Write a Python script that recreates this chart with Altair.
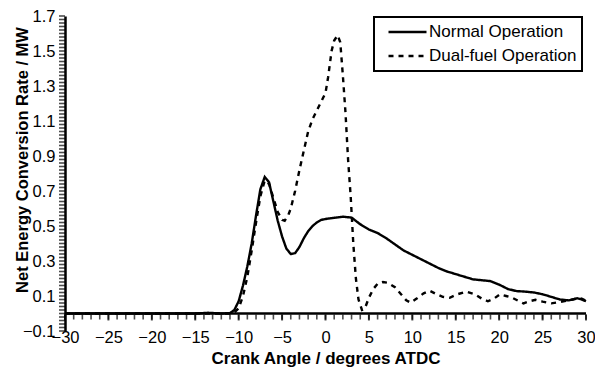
import altair as alt
import pandas as pd
import numpy as np

# Normal operation (solid)
normal_angle = [-30, -20, -15, -13.5, -12, -11, -10.5, -10, -9.5, -9, -8.5, -8, -7.5, -7, -6.5, -6,
                -5.5, -5, -4.5, -4, -3.5, -3, -2.5, -2, -1.5, -1, -0.5, 0, 1, 2, 3, 4, 5, 6, 7, 8,
                9, 10, 11, 12, 13, 14, 15, 16, 17, 18, 19, 20, 21, 22, 23, 24, 25, 26, 27, 28,
                28.5, 29, 29.5, 30]
normal_rate = [0, 0, 0, 0.004, 0, 0.002, 0.02, 0.07, 0.16, 0.27, 0.40, 0.56, 0.71, 0.78, 0.75, 0.64,
               0.53, 0.44, 0.37, 0.34, 0.345, 0.38, 0.43, 0.47, 0.50, 0.52, 0.535, 0.54, 0.547, 0.553,
               0.548, 0.51, 0.48, 0.46, 0.43, 0.395, 0.36, 0.335, 0.31, 0.285, 0.26, 0.24, 0.225,
               0.21, 0.195, 0.19, 0.185, 0.165, 0.14, 0.128, 0.125, 0.12, 0.11, 0.095, 0.08, 0.075,
               0.08, 0.087, 0.08, 0.07]

# Dual-fuel operation (dashed)
dual_angle = [-30, -20, -11, -10.5, -10, -9.5, -9, -8.5, -8, -7.5, -7, -6.5, -6, -5.5, -5, -4.7,
              -4.3, -4, -3.5, -3, -2.5, -2, -1.5, -1, -0.5, 0, 0.3, 0.7, 1.0, 1.4, 1.7, 2.0, 2.3,
              2.6, 2.9, 3.2, 3.5, 3.8, 4.2, 4.5, 5.0, 5.5, 6.0, 6.6, 7.2, 8.0, 8.7, 9.3, 9.8, 10.5,
              11.3, 12.0, 12.8, 13.5, 14.3, 15.2, 16.2, 17.2, 18.0, 18.7, 19.4, 20.1, 20.8, 21.5,
              22.3, 22.8, 23.5, 24.2, 25.0, 26.0, 27.0, 28.0, 29.0, 29.5, 30.0]
dual_rate = [0, 0, 0, 0.005, 0.03, 0.10, 0.21, 0.36, 0.52, 0.67, 0.76, 0.74, 0.66, 0.58, 0.535, 0.53,
             0.56, 0.60, 0.70, 0.82, 0.93, 1.04, 1.11, 1.16, 1.21, 1.26, 1.35, 1.50, 1.56, 1.59, 1.55,
             1.36, 1.15, 0.88, 0.67, 0.40, 0.20, 0.08, 0.02, 0.025, 0.09, 0.14, 0.17, 0.18, 0.175,
             0.15, 0.11, 0.075, 0.062, 0.085, 0.115, 0.13, 0.11, 0.095, 0.09, 0.11, 0.125, 0.11,
             0.085, 0.07, 0.085, 0.11, 0.10, 0.09, 0.07, 0.058, 0.07, 0.078, 0.068, 0.058, 0.065,
             0.075, 0.088, 0.085, 0.072]

series_names = ["Normal Operation", "Dual-fuel Operation"]

x_major = [-30, -25, -20, -15, -10, -5, 0, 5, 10, 15, 20, 25, 30]
x_minor = list(range(-30, 31))
y_major = [-0.1, 0.1, 0.3, 0.5, 0.7, 0.9, 1.1, 1.3, 1.5, 1.7]
y_minor = [round(-0.1 + 0.02 * i, 2) for i in range(91)]

df = pd.concat([
    pd.DataFrame({"angle": normal_angle, "rate": normal_rate, "series": series_names[0]}),
    pd.DataFrame({"angle": dual_angle, "rate": dual_rate, "series": series_names[1]}),
])

FONT = "Liberation Sans"
W, H = 521, 315
xscale = alt.Scale(domain=[-30, 30], nice=False, zero=False)
yscale = alt.Scale(domain=[-0.1, 1.7], nice=False, zero=False)

x_axis = alt.Axis(orient="bottom", values=x_major, format="d", domain=False, ticks=False,
                  grid=False, labelFont=FONT, labelFontSize=16.5, labelColor="black",
                  labelPadding=-2, labelFlush=False, labelOverlap=False, labelBound=False,
                  title="Crank Angle / degrees ATDC", titleFont=FONT, titleFontSize=17,
                  titleFontWeight="bold", titleColor="black",
                  titleY=27, titleBaseline="middle")
y_axis = alt.Axis(orient="left", values=y_major, format=".1f", domain=True,
                  domainColor="black", domainWidth=2.5, ticks=False, grid=False,
                  labelFont=FONT, labelFontSize=16.5, labelColor="black",
                  labelPadding=10, labelFlush=False, labelOverlap=False, labelBound=False,
                  title="Net Energy Conversion Rate / MW", titleFont=FONT,
                  titleFontSize=16.5, titleFontWeight="bold", titleColor="black",
                  titleX=-43, titleY=H / 2 - 14, titleAlign="center",
                  titleBaseline="middle", titleAngle=270)

lines = alt.Chart(df).mark_line(strokeWidth=2.4, color="black").encode(
    x=alt.X("angle:Q", scale=xscale, axis=x_axis),
    y=alt.Y("rate:Q", scale=yscale, axis=y_axis),
    detail="series:N",
    strokeDash=alt.StrokeDash("series:N",
                              scale=alt.Scale(domain=series_names, range=[[1, 0], [5, 5]]),
                              legend=alt.Legend(title=None, orient="none", legendX=309, legendY=1,
                                                symbolType="stroke", symbolSize=1444,
                                                symbolStrokeWidth=2.4, symbolStrokeColor="black",
                                                symbolOffset=8, clipHeight=20,
                                                labelFont=FONT, labelFontSize=17,
                                                labelColor="black", labelOffset=1,
                                                labelExpr="datum.label + '\u00a0'",
                                                strokeColor="black",
                                                fillColor="white", padding=5, rowPadding=4)),
)

# x axis line at y = 0
x_line = alt.Chart(pd.DataFrame({"zero": [0]})).mark_rule(strokeWidth=2.5, color="black").encode(
    y=alt.Y("zero:Q", scale=yscale, axis=y_axis)
)

# x ticks (below the axis line at y = 0)
x_ticks_minor = alt.Chart(pd.DataFrame({"t": x_minor, "zero": 0})).mark_tick(
    orient="vertical", size=5, thickness=1.6, color="black", yOffset=3.5
).encode(
    x=alt.X("t:Q", scale=xscale, axis=x_axis),
    y=alt.Y("zero:Q", scale=yscale, axis=y_axis),
)
x_ticks_major = alt.Chart(pd.DataFrame({"t": x_major, "zero": 0})).mark_tick(
    orient="vertical", size=6, thickness=2, color="black", yOffset=4
).encode(
    x=alt.X("t:Q", scale=xscale, axis=x_axis),
    y=alt.Y("zero:Q", scale=yscale, axis=y_axis),
)

# y ticks (left of the y axis line)
y_ticks = alt.Chart(pd.DataFrame({"t": y_minor})).mark_tick(
    orient="horizontal", size=6, thickness=1.6, color="black"
).encode(
    y=alt.Y("t:Q", scale=yscale, axis=y_axis),
    x=alt.value(-3),
)

chart = alt.layer(lines, x_line, x_ticks_minor, x_ticks_major, y_ticks).properties(
    width=W, height=H,
    autosize=alt.AutoSizeParams(type="none"),
    padding={"left": 65, "top": 16, "right": 9, "bottom": 36},
).configure_view(stroke=None).configure_legend(strokeWidth=2).configure_axis(
    labelOverlap=False, labelBound=False
)

chart.save("out.html", embed_options={"renderer": "svg", "actions": False})
